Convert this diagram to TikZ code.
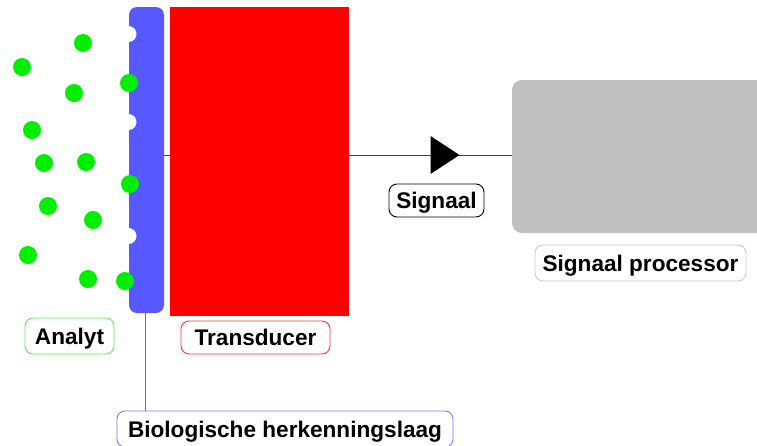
\documentclass[tikz,border=0pt]{standalone}
\usepackage{fontspec}
\setmainfont{Liberation Sans}
\usetikzlibrary{decorations.markings}
\definecolor{barblue}{HTML}{5858FF}
\definecolor{dotgreen}{HTML}{00EE00}
\definecolor{procgrey}{HTML}{C0C0C0}
\definecolor{lineblue}{HTML}{6868FF}
\definecolor{labgreen}{HTML}{55EE55}
\definecolor{labred}{HTML}{FF3333}
\definecolor{labgrey}{HTML}{CCCCCC}
\definecolor{labblue}{HTML}{7878FF}
\definecolor{conngrey}{HTML}{404040}
\begin{document}
\begin{tikzpicture}[x=1pt,y=-1pt,
  block/.style={inner sep=0pt, outer sep=0pt, anchor=north west},
  lab/.style={draw, rounded corners=8pt, fill=white, inner sep=0pt, line width=0.9pt,
    font=\fontsize{22.6}{26}\selectfont\bfseries, text height=16pt, text depth=0pt},
  conn/.style={draw=conngrey, line width=1pt},
  dot/.style={fill=dotgreen}
]
\useasboundingbox (0,0) rectangle (757,445);
\clip (0,0) rectangle (757,445);
\fill[white] (0,0) rectangle (757,445);

% signal line level
\coordinate (lvl) at (0,155);

% blocks
\node[block, fill=barblue, rounded corners=8pt, minimum width=35pt, minimum height=306pt] (bar) at (129,7) {};
\node[block, fill=red, minimum width=179pt, minimum height=309pt] (trans) at (170,7) {};
\node[block, fill=procgrey, rounded corners=10pt, minimum width=280pt, minimum height=153pt] (proc) at (512,80) {};

% notches in the recognition layer
\foreach \y in {34,122,236} \fill[white] (128.5,\y) circle[radius=8];

% analyte dots
\foreach \x/\y in {83/43, 22/67, 129/83, 74/93, 32/130, 44/163, 86/162, 130/184, 48/206, 93/220, 28/255, 88/279, 125/281}
  \fill[dot] (\x,\y) circle[radius=9];

% connectors
\draw[conn] (bar.east |- lvl) -- (trans.west |- lvl);
\draw[conn, decoration={markings, mark=at position 0.5 with {\fill[black] (0,-19) -- (29,0) -- (0,19) -- cycle;}}, postaction=decorate]
  (trans.east |- lvl) -- (proc.west |- lvl);

% labels
\node[lab, draw=labgreen, minimum width=89pt, minimum height=36pt] (analyt) at (69.5,336) {Analyt};
\node[lab, draw=labred, minimum width=149pt, minimum height=33pt] (transl) at (255.5,337.5) {Transducer};
\node[lab, draw=black, minimum width=95pt, minimum height=33pt] (sig) at (436.5,200.5) {Signaal};
\node[lab, draw=labgrey, minimum width=211pt, minimum height=36pt] (procl) at (640.5,263) {Signaal processor};
\node[lab, draw=labblue, minimum width=336pt, minimum height=36pt] (bio) at (285,429) {Biologische herkenningslaag};

\draw[draw=lineblue, line width=1pt] (bar.south -| 145,0) -- (bio.north -| 145,0);
\end{tikzpicture}
\end{document}
